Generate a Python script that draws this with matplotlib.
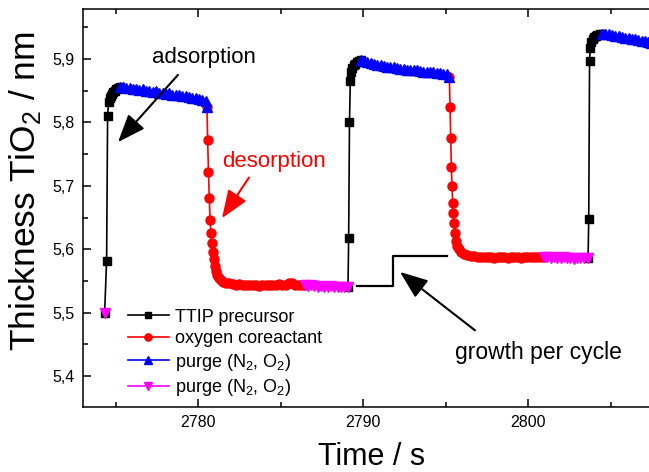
import numpy as np
import matplotlib
matplotlib.use("Agg")
from matplotlib import pyplot as plt
from matplotlib.ticker import MultipleLocator, FuncFormatter

plt.rcParams['font.family'] = ['Liberation Sans', 'DejaVu Sans']
plt.rcParams['mathtext.fontset'] = 'custom'
plt.rcParams['mathtext.rm'] = 'Liberation Sans'

# TTIP precursor pulses (black)
t_ttip1 = [2774.34, 2774.46, 2774.52, 2774.58, 2774.64, 2774.70, 2774.78, 2774.86, 2774.95, 2775.05, 2775.15, 2775.25]
y_ttip1 = [5.500, 5.582, 5.810, 5.832, 5.838, 5.842, 5.845, 5.848, 5.850, 5.852, 5.854, 5.856]
t_ttip2 = [2789.08, 2789.12, 2789.17, 2789.22, 2789.28, 2789.35, 2789.43, 2789.52, 2789.62, 2789.73, 2789.85]
y_ttip2 = [5.541, 5.617, 5.800, 5.866, 5.879, 5.886, 5.890, 5.893, 5.895, 5.897, 5.898]
t_ttip3 = [2803.62, 2803.66, 2803.71, 2803.76, 2803.82, 2803.89, 2803.97, 2804.07, 2804.19, 2804.32, 2804.47]
y_ttip3 = [5.586, 5.648, 5.897, 5.918, 5.927, 5.932, 5.935, 5.937, 5.938, 5.939, 5.940]

# purge after precursor (blue)
t_purge1 = [2775.25, 2775.45, 2775.65, 2775.85, 2776.05, 2776.25, 2776.45, 2776.65, 2776.85, 2777.05,
            2777.25, 2777.45, 2777.65, 2777.85, 2778.05, 2778.25, 2778.45, 2778.65, 2778.85, 2779.05,
            2779.25, 2779.45, 2779.65, 2779.85, 2780.05, 2780.25, 2780.45, 2780.54]
y_purge1 = [5.856, 5.856, 5.854, 5.855, 5.853, 5.853, 5.851, 5.852, 5.850, 5.850,
            5.848, 5.849, 5.847, 5.847, 5.845, 5.846, 5.844, 5.843, 5.843, 5.841,
            5.841, 5.840, 5.839, 5.838, 5.837, 5.836, 5.834, 5.824]
t_purge2 = [2789.85, 2790.05, 2790.25, 2790.45, 2790.65, 2790.85, 2791.05, 2791.25, 2791.45, 2791.65,
            2791.85, 2792.05, 2792.25, 2792.45, 2792.65, 2792.85, 2793.05, 2793.25, 2793.45, 2793.65,
            2793.85, 2794.05, 2794.25, 2794.45, 2794.65, 2794.85, 2795.05, 2795.22]
y_purge2 = [5.898, 5.897, 5.895, 5.894, 5.893, 5.891, 5.890, 5.889, 5.888, 5.887,
            5.887, 5.886, 5.885, 5.884, 5.883, 5.883, 5.882, 5.882, 5.881, 5.880,
            5.880, 5.879, 5.879, 5.878, 5.878, 5.877, 5.876, 5.871]
t_purge3 = [2804.47, 2804.67, 2804.87, 2805.07, 2805.27, 2805.47, 2805.67, 2805.87, 2806.07, 2806.27,
            2806.47, 2806.67, 2806.87, 2807.07, 2807.27, 2807.45]
y_purge3 = [5.940, 5.940, 5.939, 5.938, 5.937, 5.936, 5.935, 5.934, 5.933, 5.932,
            5.931, 5.930, 5.929, 5.928, 5.927, 5.926]

# oxygen coreactant pulses (red)
t_oxy1 = [2780.54, 2780.58, 2780.63, 2780.68, 2780.73, 2780.78, 2780.83, 2780.88, 2780.94, 2781.00,
          2781.07, 2781.15, 2781.25, 2781.38, 2781.52, 2781.70, 2781.90, 2782.10, 2782.30, 2782.50,
          2782.70, 2782.90, 2783.10, 2783.30, 2783.50, 2783.70, 2783.90, 2784.10, 2784.30, 2784.50,
          2784.70, 2784.90, 2785.10, 2785.30, 2785.50, 2785.70, 2785.90, 2786.10, 2786.30, 2786.45]
y_oxy1 = [5.824, 5.772, 5.722, 5.680, 5.646, 5.625, 5.610, 5.596, 5.584, 5.574,
          5.566, 5.559, 5.554, 5.551, 5.549, 5.547, 5.546, 5.545, 5.544, 5.545,
          5.544, 5.543, 5.544, 5.543, 5.544, 5.542, 5.543, 5.544, 5.543, 5.544,
          5.543, 5.545, 5.544, 5.543, 5.546, 5.547, 5.544, 5.543, 5.544, 5.543]
t_oxy2 = [2795.22, 2795.26, 2795.30, 2795.34, 2795.38, 2795.42, 2795.46, 2795.50, 2795.56, 2795.63,
          2795.71, 2795.80, 2795.92, 2796.08, 2796.28, 2796.50, 2796.72, 2796.95, 2797.15, 2797.35,
          2797.55, 2797.75, 2797.95, 2798.15, 2798.35, 2798.55, 2798.75, 2798.95, 2799.15, 2799.35,
          2799.55, 2799.75, 2799.95, 2800.15, 2800.35, 2800.55, 2800.75, 2800.95]
y_oxy2 = [5.871, 5.825, 5.776, 5.730, 5.699, 5.673, 5.657, 5.641, 5.625, 5.613,
          5.605, 5.600, 5.596, 5.593, 5.591, 5.590, 5.589, 5.588, 5.588, 5.587,
          5.588, 5.587, 5.586, 5.587, 5.588, 5.587, 5.586, 5.587, 5.588, 5.587,
          5.586, 5.587, 5.588, 5.587, 5.587, 5.588, 5.587, 5.587]

# purge after coreactant (magenta)
t_purge_b0 = [2774.34]
y_purge_b0 = [5.500]
t_purge_b1 = [2786.45, 2786.65, 2786.85, 2787.05, 2787.25, 2787.45, 2787.65, 2787.85, 2788.05, 2788.25,
              2788.45, 2788.65, 2788.85, 2789.08]
y_purge_b1 = [5.543, 5.542, 5.543, 5.542, 5.541, 5.542, 5.541, 5.541, 5.542, 5.541,
              5.540, 5.541, 5.541, 5.541]
t_purge_b2 = [2800.95, 2801.15, 2801.35, 2801.55, 2801.75, 2801.95, 2802.15, 2802.35, 2802.55, 2802.75,
              2802.95, 2803.15, 2803.35, 2803.62]
y_purge_b2 = [5.587, 5.587, 5.586, 5.587, 5.586, 5.586, 5.587, 5.586, 5.586, 5.585,
              5.586, 5.586, 5.586, 5.586]

# growth per cycle step
step_t = [2789.63, 2791.81, 2791.81, 2795.08]
step_y = [5.5418, 5.5418, 5.5892, 5.5892]

fig = plt.figure(figsize=(6.49, 4.72), dpi=100)
ax = fig.add_axes([83/649, 65/472, 566/649, 398/472])

ms = 6.5
lw = 1.2
ax.plot(t_ttip1, y_ttip1, '-s', color='black', ms=5.5, lw=lw, label='TTIP precursor')
ax.plot(t_ttip2, y_ttip2, '-s', color='black', ms=5.5, lw=lw)
ax.plot(t_ttip3, y_ttip3, '-s', color='black', ms=5.5, lw=lw)
ax.plot(t_oxy1, y_oxy1, '-o', color='red', ms=ms, lw=lw, label='oxygen coreactant')
ax.plot(t_oxy2, y_oxy2, '-o', color='red', ms=ms, lw=lw)
ax.plot(t_purge1, y_purge1, '-^', color='blue', ms=ms, lw=lw, label='purge (N$_2$, O$_2$)')
ax.plot(t_purge2, y_purge2, '-^', color='blue', ms=ms, lw=lw)
ax.plot(t_purge3, y_purge3, '-^', color='blue', ms=ms, lw=lw)
ax.plot(t_purge_b0, y_purge_b0, '-v', color='magenta', ms=ms, lw=lw, label='purge (N$_2$, O$_2$)')
ax.plot(t_purge_b1, y_purge_b1, '-v', color='magenta', ms=ms, lw=lw)
ax.plot(t_purge_b2, y_purge_b2, '-v', color='magenta', ms=ms, lw=lw)

ax.plot(step_t, step_y, '-', color='black', lw=1.6)

arrow = dict(arrowstyle='-|>,head_length=0.9,head_width=0.35', color='black', lw=1.5,
             mutation_scale=19, shrinkA=0, shrinkB=0)
ax.text(2780.36, 5.902, 'adsorption', fontsize=16, ha='center', va='center')
ax.annotate('', xy=(2775.15, 5.769), xytext=(2778.78, 5.875), arrowprops=arrow)
ax.text(2784.60, 5.738, 'desorption', fontsize=16, color='red', ha='center', va='center')
arrow_red = dict(arrow, color='red')
ax.annotate('', xy=(2781.45, 5.649), xytext=(2783.08, 5.713), arrowprops=arrow_red)
ax.text(2800.59, 5.437, 'growth per cycle', fontsize=16.5, ha='center', va='center')
ax.annotate('', xy=(2792.23, 5.564), xytext=(2796.77, 5.472), arrowprops=arrow)

ax.set_xlim(2773.03, 2807.31)
ax.set_ylim(5.351, 5.979)
ax.xaxis.set_major_locator(MultipleLocator(10))
ax.xaxis.set_minor_locator(MultipleLocator(5))
ax.yaxis.set_major_locator(MultipleLocator(0.1))
ax.yaxis.set_minor_locator(MultipleLocator(0.05))
ax.yaxis.set_major_formatter(FuncFormatter(lambda v, p: ('%.1f' % v).replace('.', ',')))
ax.tick_params(which='both', direction='in', top=True, right=False, width=1.1, labelsize=11.5)
ax.tick_params(which='major', length=6, pad=6)
ax.tick_params(which='minor', length=3.5)
ax.spines['right'].set_visible(False)
for s in ['left', 'bottom', 'top']:
    ax.spines[s].set_linewidth(1.1)

fig.text(25/649, 1 - 191/472, 'Thickness TiO$_2$ / nm', rotation=90, fontsize=25.5, ha='center', va='center')
fig.text(372/649, 1 - 457/472, 'Time / s', fontsize=22, ha='center', va='center')

ax.legend(loc='upper left', bbox_to_anchor=(0.066, 0.265), frameon=False, fontsize=13,
          handlelength=2.3, handletextpad=0.3, labelspacing=0.25, borderaxespad=0,
          markerscale=0.8)

fig.savefig('out.png', dpi=100)
